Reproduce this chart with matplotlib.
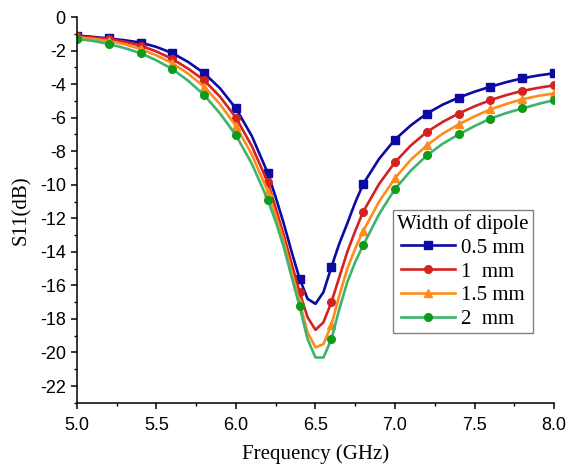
import matplotlib
matplotlib.use("Agg")
import matplotlib.pyplot as plt
from matplotlib.ticker import MultipleLocator
import numpy as np

# frequency grid (GHz), denser near the resonance dip
freq = [5.0, 5.1, 5.2, 5.3, 5.4, 5.5, 5.6, 5.7, 5.8, 5.9, 6.0, 6.1, 6.2, 6.25,
        6.3, 6.35, 6.4, 6.45, 6.5, 6.55, 6.6, 6.65, 6.7, 6.75, 6.8, 6.9, 7.0,
        7.1, 7.2, 7.3, 7.4, 7.5, 7.6, 7.7, 7.8, 7.9, 8.0]

# S11 (dB), one list per dipole width
s11_05 = [-1.1, -1.18, -1.27, -1.38, -1.52, -1.78, -2.15, -2.68, -3.35, -4.25,
          -5.45, -7.1, -9.3, -10.75, -12.3, -14.0, -15.6, -16.8, -17.1, -16.4,
          -14.9, -13.5, -12.3, -11.05, -9.95, -8.45, -7.3, -6.45, -5.75, -5.22,
          -4.8, -4.45, -4.15, -3.88, -3.65, -3.48, -3.35]
s11_1 = [-1.15, -1.22, -1.3, -1.47, -1.7, -2.05, -2.5, -3.08, -3.77, -4.75,
         -6.0, -7.7, -9.85, -11.4, -13.0, -14.7, -16.4, -17.9, -18.65, -18.2,
         -17.0, -15.5, -14.0, -12.75, -11.6, -9.95, -8.65, -7.65, -6.85, -6.25,
         -5.75, -5.32, -4.95, -4.65, -4.4, -4.22, -4.07]
s11_15 = [-1.2, -1.3, -1.42, -1.62, -1.9, -2.28, -2.75, -3.38, -4.15, -5.2,
          -6.5, -8.2, -10.4, -11.8, -13.35, -15.2, -17.0, -18.8, -19.7, -19.5,
          -18.35, -16.6, -15.0, -13.8, -12.75, -11.0, -9.6, -8.5, -7.65, -6.95,
          -6.4, -5.92, -5.5, -5.18, -4.9, -4.7, -4.55]
s11_2 = [-1.3, -1.42, -1.6, -1.85, -2.15, -2.58, -3.1, -3.8, -4.65, -5.75,
         -7.05, -8.75, -10.9, -12.2, -13.7, -15.5, -17.25, -19.2, -20.3, -20.3,
         -19.2, -17.4, -15.8, -14.6, -13.6, -11.75, -10.25, -9.15, -8.25, -7.55,
         -7.0, -6.5, -6.05, -5.72, -5.45, -5.18, -4.95]

labels = ["0.5 mm", "1  mm", "1.5 mm", "2  mm"]
series = [s11_05, s11_1, s11_15, s11_2]
line_colors = ["#0B0BA3", "#D42222", "#FF8C1A", "#3DB36E"]
marker_colors = ["#0B0BA3", "#D42222", "#FF8C1A", "#0E9A1A"]
markers = ["s", "o", "^", "o"]

# markers only every 0.2 GHz
freq_arr = np.array(freq)
mark_idx = [i for i, f in enumerate(freq_arr) if abs(f * 5 - round(f * 5)) < 1e-6]

fig = plt.figure(figsize=(5.7, 4.75), dpi=100)
ax = fig.add_axes([0.135, 0.152, 0.837, 0.812])

for vals, lab, lc, mc, m in zip(series, labels, line_colors, marker_colors, markers):
    ax.plot(freq, vals, color=lc, lw=1.9, marker=m, markersize=5.5,
            markerfacecolor=mc, markeredgecolor=mc, markevery=mark_idx, label=lab)

ax.set_xlim(5.0, 8.0)
ax.set_ylim(-23, 0)
ax.xaxis.set_major_locator(MultipleLocator(0.5))
ax.xaxis.set_minor_locator(MultipleLocator(0.25))
ax.yaxis.set_major_locator(MultipleLocator(2))
ax.yaxis.set_minor_locator(MultipleLocator(1))
ax.xaxis.set_major_formatter(plt.FuncFormatter(lambda v, p: f"{v:.1f}"))
ax.yaxis.set_major_formatter(plt.FuncFormatter(lambda v, p: f"{v:.0f}"))

ax.spines["top"].set_visible(False)
ax.spines["right"].set_visible(False)
for s in ["left", "bottom"]:
    ax.spines[s].set_linewidth(1.1)
ax.tick_params(which="major", direction="out", length=4.5, width=1.1,
               labelsize=13)
ax.tick_params(axis="x", which="major", pad=6)
ax.tick_params(which="minor", direction="out", length=2.5, width=1.0)
for lbl in ax.get_xticklabels() + ax.get_yticklabels():
    lbl.set_fontfamily("Liberation Sans")

ax.set_xlabel("Frequency (GHz)", fontsize=15, family="Liberation Serif", labelpad=7)
ax.set_ylabel("S11(dB)", fontsize=15, family="Liberation Serif", labelpad=6)

leg = ax.legend(title="Width of dipole", loc="upper left",
                bbox_to_anchor=(0.662, 0.5), borderaxespad=0,
                prop={"family": "Liberation Serif", "size": 15},
                title_fontproperties={"family": "Liberation Serif", "size": 15},
                fancybox=False, framealpha=1, edgecolor="#808080",
                handlelength=2.6, handletextpad=0.3, labelspacing=0.2,
                borderpad=0.2)
leg.get_frame().set_linewidth(1.0)

fig.savefig("out.png", dpi=100)
